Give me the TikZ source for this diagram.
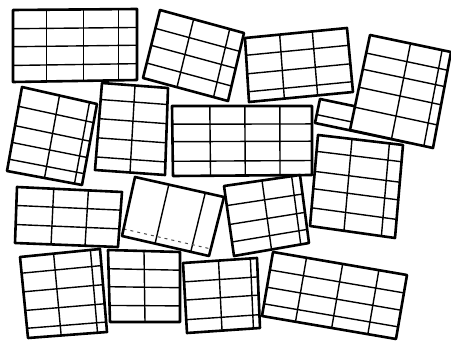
\documentclass[tikz,border=0pt]{standalone}
\usetikzlibrary{calc}
\tikzset{
  tileedge/.style={line width=2.6pt, line join=round},
  tilegrid/.style={line width=1.4pt},
  faintgrid/.style={line width=1pt, dash pattern=on 3pt off 4pt, black!70}
}
% corners: top-left, top-right, bottom-right, bottom-left; vertical fractions; horizontal fractions
\newcommand{\mytile}[6]{%
  \coordinate (tA) at (#1); \coordinate (tB) at (#2);
  \coordinate (tC) at (#3); \coordinate (tD) at (#4);
  \fill[white] (tA) -- (tB) -- (tC) -- (tD) -- cycle;
  \foreach \f in {#5} {\draw[tilegrid] ($(tA)!\f!(tB)$) -- ($(tD)!\f!(tC)$);}
  \foreach \f in {#6} {\draw[tilegrid] ($(tA)!\f!(tD)$) -- ($(tB)!\f!(tC)$);}
  \draw[tileedge] (tA) -- (tB) -- (tC) -- (tD) -- cycle;
}
\begin{document}
\begin{tikzpicture}[x=1pt,y=-1pt]
\useasboundingbox (0,0) rectangle (451,342);
\clip (0,0) rectangle (451,342);
\fill[white] (0,0) rectangle (451,342);
% row 1
\mytile{13,10}{137,9}{137,80}{13,82}{0.27,0.57,0.85}{0.26,0.51,0.77}
\mytile{160,10}{244,33}{228,101}{143,78}{0.40,0.83}{0.27,0.52,0.78}
\mytile{245,38}{347,28}{353,92}{249,102}{0.34,0.66}{0.27,0.56,0.84}
\mytile{320,99}{416,119}{410,143}{315,123}{0.5}{0.65}
\mytile{370,35}{451,52}{433,148}{350,130}{0.5,0.89}{0.19,0.36,0.55,0.76}
% row 2
\mytile{22,87}{97,104}{82,185}{7,171}{0.5,0.9}{0.23,0.46,0.66,0.86}
\mytile{102,83}{168,88}{165,175}{95,170}{0.5}{0.19,0.41,0.63,0.85}
\mytile{172,106}{312,106}{312,175}{173,176}{0.27,0.52,0.77}{0.26,0.51,0.79}
\mytile{318,135}{403,145}{395,238}{310,226}{0.40,0.84}{0.18,0.40,0.59,0.80}
% row 3
\mytile{17,187}{122,192}{118,247}{15,243}{0.35,0.68}{0.33,0.67}
\coordinate (eA) at (135,177); \coordinate (eB) at (224,197);
\coordinate (eC) at (209,256); \coordinate (eD) at (122,236);
\fill[white] (eA) -- (eB) -- (eC) -- (eD) -- cycle;
\foreach \f in {0.38,0.79} {\draw[tilegrid] ($(eA)!\f!(eB)$) -- ($(eD)!\f!(eC)$);}
\draw[faintgrid] ($(eA)!0.88!(eD)$) -- ($(eB)!0.88!(eC)$);
\draw[tileedge] (eA) -- (eB) -- (eC) -- (eD) -- cycle;
\mytile{224,186}{300,175}{309,243}{234,256}{0.5,0.89}{0.28,0.55,0.8}
% row 4
\mytile{20,257}{100,249}{107,332}{28,338}{0.42,0.88}{0.2,0.43,0.66,0.88}
\mytile{108,250}{180,252}{180,322}{110,322}{0.5}{0.26,0.51,0.77}
\mytile{183,263}{257,258}{260,328}{187,333}{0.48,0.91}{0.27,0.53,0.81}
\mytile{273,252}{407,275}{396,339}{262,316}{0.25,0.52,0.79}{0.28,0.55,0.81}
\end{tikzpicture}
\end{document}
